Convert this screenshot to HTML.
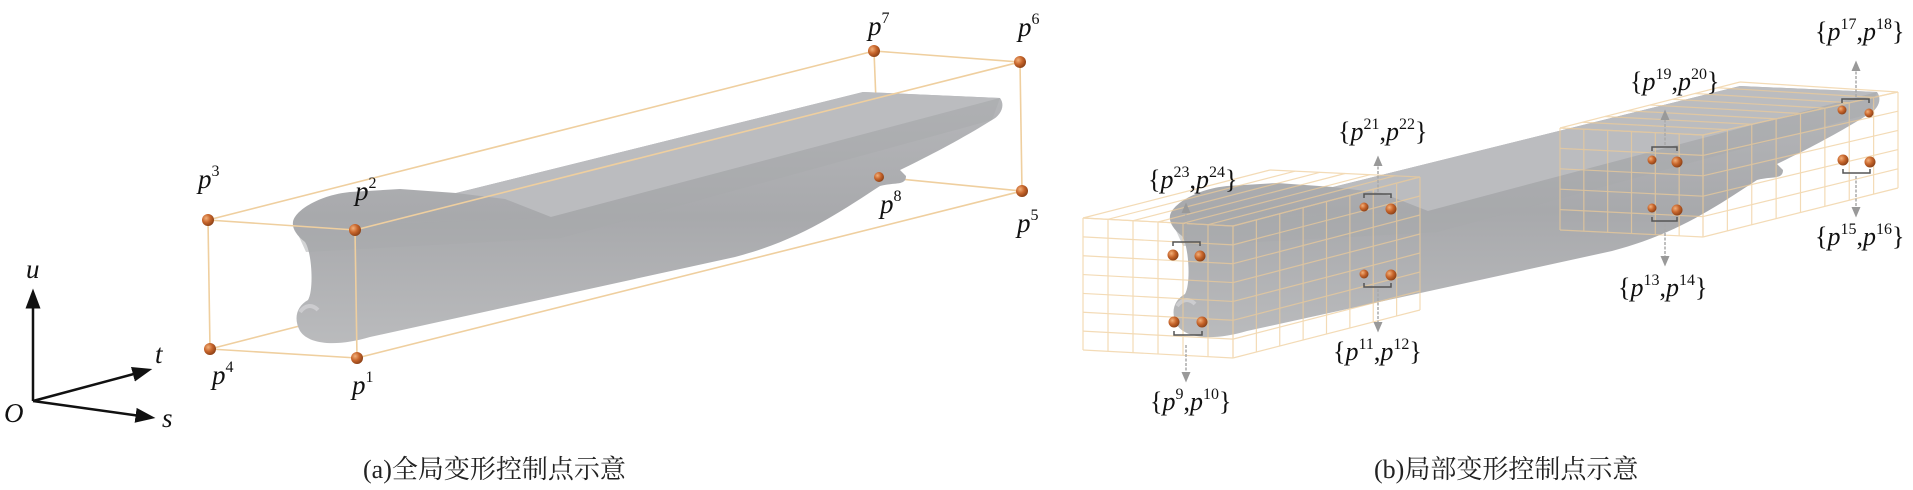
<!DOCTYPE html>
<html><head><meta charset="utf-8"><style>
html,body{margin:0;padding:0;background:#fff;}
svg{display:block}
.lbl{font-family:"Liberation Serif",serif;font-size:27px;fill:#111}
.lbl tspan.i{font-style:italic}
.cap{font-family:"Liberation Serif","Noto Serif CJK SC",serif;font-size:26px;fill:#222}
</style></head><body>
<svg id="s" width="1913" height="490" viewBox="0 0 1913 490" xmlns="http://www.w3.org/2000/svg">
<defs>
<linearGradient id="hull" x1="0" y1="0" x2="0" y2="1">
<stop offset="0" stop-color="#b6b7ba"/><stop offset="0.5" stop-color="#a8a9ac"/><stop offset="1" stop-color="#babbbd"/>
</linearGradient>
<radialGradient id="dot" cx="0.35" cy="0.35" r="0.7">
<stop offset="0" stop-color="#f2b07a"/><stop offset="0.5" stop-color="#c8662c"/><stop offset="1" stop-color="#8a3f15"/>
</radialGradient>
<marker id="ah" markerWidth="8" markerHeight="8" refX="4" refY="4" orient="auto"><path d="M0,1 L7,4 L0,7 Z" fill="#999"/></marker>
<marker id="ak" markerWidth="8" markerHeight="8" refX="5" refY="4" orient="auto"><path d="M0,1 L8,4 L0,7 Z" fill="#111"/></marker>
<g id="ship">
<path d="M293,222 C295,210 320,195 350,192 L400,189 L456,193 L863,92 L1000,98 C1006,106 1000,116 992,120 C960,140 925,158 900,170 L906,176 C906,186 895,182 880,186 C840,212 800,240 735,257 L370,337 C340,346 310,346 300,331 C293,318 297,306 308,300 C314,290 312,252 305,242 C296,235 292,228 293,222 Z" fill="url(#hull)"/>
<path d="M456,193 L863,92 L1000,98 L551,217 L505,199 Z" fill="#bbbcbf"/>
<path d="M296,230 C330,226 450,222 551,217 L1000,98 L992,120 L560,238 C450,244 340,250 306,252 Z" fill="#a8a9ac" opacity="0.5"/>
<path d="M300,312 C305,305 312,304 318,310" stroke="#d5d6d8" stroke-width="4" fill="none" opacity="0.7"/>
</g>
</defs>

<g stroke="#111" stroke-width="2.5" fill="none">
<line x1="33" y1="401" x2="33" y2="296" marker-end="url(#ak)"/>
<line x1="33" y1="401" x2="145" y2="371" marker-end="url(#ak)"/>
<line x1="33" y1="401" x2="148" y2="417" marker-end="url(#ak)"/>
</g>
<text class="lbl" x="26" y="278"><tspan class="i">u</tspan></text>
<text class="lbl" x="155" y="363"><tspan class="i">t</tspan></text>
<text class="lbl" x="162" y="427"><tspan class="i">s</tspan></text>
<text class="lbl" x="4" y="422"><tspan class="i">O</tspan></text>

<g stroke="#efcf9f" stroke-width="1.6" fill="none">
<line x1="210" y1="349" x2="879" y2="177"/>
<line x1="879" y1="177" x2="1022" y2="191"/>
<line x1="879" y1="177" x2="874" y2="51"/>
</g>
<use href="#ship"/>
<g stroke="#efcf9f" stroke-width="1.6" fill="none">
<line x1="208" y1="220" x2="874" y2="51"/>
<line x1="355" y1="230" x2="1020" y2="62"/>
<line x1="874" y1="51" x2="1020" y2="62"/>
<line x1="208" y1="220" x2="355" y2="230"/>
<line x1="208" y1="220" x2="210" y2="349"/>
<line x1="355" y1="230" x2="357" y2="358"/>
<line x1="210" y1="349" x2="357" y2="358"/>
<line x1="357" y1="358" x2="1022" y2="191"/>
<line x1="1020" y1="62" x2="1022" y2="191"/>
</g>
<g fill="url(#dot)">
<circle cx="208" cy="220" r="6"/><circle cx="355" cy="230" r="6"/><circle cx="210" cy="349" r="6"/><circle cx="357" cy="358" r="6"/>
<circle cx="874" cy="51" r="6"/><circle cx="1020" cy="62" r="6"/><circle cx="879" cy="177" r="5"/><circle cx="1022" cy="191" r="6"/>
</g>
<g class="lbl">
<text x="198" y="188"><tspan class="i">p</tspan><tspan font-size="16" dy="-12">3</tspan></text>
<text x="355" y="200"><tspan class="i">p</tspan><tspan font-size="16" dy="-12">2</tspan></text>
<text x="212" y="384"><tspan class="i">p</tspan><tspan font-size="16" dy="-12">4</tspan></text>
<text x="352" y="394"><tspan class="i">p</tspan><tspan font-size="16" dy="-12">1</tspan></text>
<text x="868" y="35"><tspan class="i">p</tspan><tspan font-size="16" dy="-12">7</tspan></text>
<text x="1018" y="36"><tspan class="i">p</tspan><tspan font-size="16" dy="-12">6</tspan></text>
<text x="880" y="213"><tspan class="i">p</tspan><tspan font-size="16" dy="-12">8</tspan></text>
<text x="1017" y="232"><tspan class="i">p</tspan><tspan font-size="16" dy="-12">5</tspan></text>
</g>

<use href="#ship" transform="translate(877,-6)"/>
<g id="grids" stroke="#efcc98" stroke-width="1.2" fill="none" opacity="0.7"></g>

<g fill="url(#dot)">
<circle cx="1173" cy="255" r="5.5"/><circle cx="1200" cy="256" r="5.5"/>
<circle cx="1174" cy="322" r="5.5"/><circle cx="1202" cy="322" r="5.5"/>
<circle cx="1364" cy="207" r="4.5"/><circle cx="1391" cy="209" r="5.5"/>
<circle cx="1364" cy="274" r="4.5"/><circle cx="1391" cy="275" r="5.5"/>
<circle cx="1652" cy="160" r="4.5"/><circle cx="1677" cy="162" r="5.5"/>
<circle cx="1652" cy="208" r="4.5"/><circle cx="1677" cy="210" r="5.5"/>
<circle cx="1842" cy="110" r="4.5"/><circle cx="1869" cy="113" r="4.5"/>
<circle cx="1843" cy="160" r="5.5"/><circle cx="1870" cy="162" r="5.5"/>
</g>
<g stroke="#555" stroke-width="1.5" fill="none">
<path d="M1173,246 V242 H1200 V246"/><path d="M1174,331 V335 H1202 V331"/>
<path d="M1364,198 V194 H1391 V198"/><path d="M1364,283 V287 H1391 V283"/>
<path d="M1652,151 V147 H1677 V151"/><path d="M1652,217 V221 H1677 V217"/>
<path d="M1842,103 V99 H1869 V103"/><path d="M1843,169 V173 H1870 V169"/>
</g>
<g stroke="#aaa" stroke-width="1.5" stroke-dasharray="3,1.5" fill="none">
<line x1="1186" y1="240" x2="1186" y2="207" marker-end="url(#ah)"/>
<line x1="1186" y1="345" x2="1186" y2="378" marker-end="url(#ah)"/>
<line x1="1378" y1="192" x2="1378" y2="160" marker-end="url(#ah)"/>
<line x1="1378" y1="289" x2="1378" y2="328" marker-end="url(#ah)"/>
<line x1="1665" y1="145" x2="1665" y2="114" marker-end="url(#ah)"/>
<line x1="1665" y1="224" x2="1665" y2="262" marker-end="url(#ah)"/>
<line x1="1856" y1="97" x2="1856" y2="65" marker-end="url(#ah)"/>
<line x1="1856" y1="176" x2="1856" y2="213" marker-end="url(#ah)"/>
</g>
<g class="lbl" style="font-size:26px">
<text x="1148" y="188">{<tspan class="i">p</tspan><tspan font-size="16" dy="-11">23</tspan><tspan dy="11">,</tspan><tspan class="i">p</tspan><tspan font-size="16" dy="-11">24</tspan><tspan dy="11">}</tspan></text>
<text x="1338" y="140">{<tspan class="i">p</tspan><tspan font-size="16" dy="-11">21</tspan><tspan dy="11">,</tspan><tspan class="i">p</tspan><tspan font-size="16" dy="-11">22</tspan><tspan dy="11">}</tspan></text>
<text x="1150" y="410">{<tspan class="i">p</tspan><tspan font-size="16" dy="-11">9</tspan><tspan dy="11">,</tspan><tspan class="i">p</tspan><tspan font-size="16" dy="-11">10</tspan><tspan dy="11">}</tspan></text>
<text x="1333" y="360">{<tspan class="i">p</tspan><tspan font-size="16" dy="-11">11</tspan><tspan dy="11">,</tspan><tspan class="i">p</tspan><tspan font-size="16" dy="-11">12</tspan><tspan dy="11">}</tspan></text>
<text x="1630" y="90">{<tspan class="i">p</tspan><tspan font-size="16" dy="-11">19</tspan><tspan dy="11">,</tspan><tspan class="i">p</tspan><tspan font-size="16" dy="-11">20</tspan><tspan dy="11">}</tspan></text>
<text x="1618" y="296">{<tspan class="i">p</tspan><tspan font-size="16" dy="-11">13</tspan><tspan dy="11">,</tspan><tspan class="i">p</tspan><tspan font-size="16" dy="-11">14</tspan><tspan dy="11">}</tspan></text>
<text x="1815" y="40">{<tspan class="i">p</tspan><tspan font-size="16" dy="-11">17</tspan><tspan dy="11">,</tspan><tspan class="i">p</tspan><tspan font-size="16" dy="-11">18</tspan><tspan dy="11">}</tspan></text>
<text x="1815" y="245">{<tspan class="i">p</tspan><tspan font-size="16" dy="-11">15</tspan><tspan dy="11">,</tspan><tspan class="i">p</tspan><tspan font-size="16" dy="-11">16</tspan><tspan dy="11">}</tspan></text>
</g>

<text class="cap" x="363" y="478">(a)全局变形控制点示意</text>
<text class="cap" x="1374" y="478">(b)局部变形控制点示意</text>
</svg>
<script>
(function(){
var g=document.getElementById('grids'),NS='http://www.w3.org/2000/svg';
function L(a,b){var l=document.createElementNS(NS,'line');l.setAttribute('x1',a[0]);l.setAttribute('y1',a[1]);l.setAttribute('x2',b[0]);l.setAttribute('y2',b[1]);g.appendChild(l);}
function lerp(a,b,t){return [a[0]+(b[0]-a[0])*t,a[1]+(b[1]-a[1])*t];}
function face(p0,p1,p2,p3,nu,nv){
 for(var i=0;i<=nu;i++){var t=i/nu;L(lerp(p0,p1,t),lerp(p3,p2,t));}
 for(var j=0;j<=nv;j++){var s=j/nv;L(lerp(p0,p3,s),lerp(p1,p2,s));}
}
var A=[1083,218],B=[1233,226],C=[1233,358],D=[1083,350],E=[1270,170],G=[1420,177],H=[1420,310];
face(A,B,C,D,6,7);face(A,B,G,E,6,1);face(B,G,H,C,8,7);
var A2=[1560,128],B2=[1703,135],C2=[1703,237],D2=[1560,230],E2=[1740,82],G2=[1898,92],H2=[1898,188];
face(A2,B2,C2,D2,6,5);face(A2,B2,G2,E2,1,8);face(B2,G2,H2,C2,8,5);
})();
</script>
</body></html>
